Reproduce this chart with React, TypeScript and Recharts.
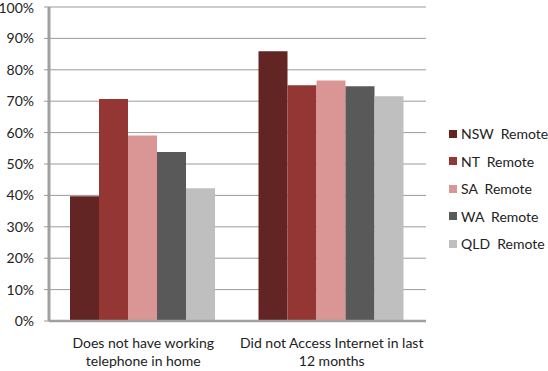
import React from "react";
import { BarChart, Bar, XAxis, YAxis, CartesianGrid, Legend } from "recharts";

const categories = [
  "Does not have working telephone in home",
  "Did not Access Internet in last 12 months",
];
const categoryLines = [
  ["Does not have working", "telephone in home"],
  ["Did not Access Internet in last", "12 months"],
];
const seriesNames = ["NSW  Remote", "NT  Remote", "SA  Remote", "WA  Remote", "QLD  Remote"];
const seriesKeys = ["nsw", "nt", "sa", "wa", "qld"];
const seriesColors = ["#632523", "#943634", "#D99694", "#595959", "#BFBFBF"];
const nswValues = [39.7, 85.9];
const ntValues = [70.7, 75.1];
const saValues = [59.1, 76.6];
const waValues = [53.8, 74.8];
const qldValues = [42.3, 71.6];
const yTicks = [0, 10, 20, 30, 40, 50, 60, 70, 80, 90, 100];
const boundaryTicks = [0, 1, 2];

const allValues = [nswValues, ntValues, saValues, waValues, qldValues];
const data = categories.map((c, i) => {
  const row: any = { name: c, idx: i + 0.5 };
  seriesKeys.forEach((k, s) => (row[k] = allValues[s][i]));
  return row;
});

const FONT = "Lato, 'Open Sans', sans-serif";

const CatTick = (props: any) => {
  const { x, y, payload } = props;
  const i = categories.indexOf(payload.value);
  const lines = categoryLines[i] || [payload.value];
  return (
    <g>
      {lines.map((l, k) => (
        <text
          key={k}
          x={x}
          y={y + 19 + k * 18}
          textAnchor="middle"
          fontSize={14}
          fill="#222"
          fontFamily={FONT}
        >
          {l}
        </text>
      ))}
    </g>
  );
};

const LegendContent = () => (
  <div style={{ fontFamily: FONT, fontSize: 14, color: "#222" }}>
    {seriesNames.map((n, i) => (
      <div
        key={n}
        style={{ display: "flex", alignItems: "center", height: 27.5, whiteSpace: "pre" }}
      >
        <span
          style={{
            display: "inline-block",
            width: 8,
            height: 8,
            background: seriesColors[i],
            marginRight: 4,
          }}
        />
        <span>{n}</span>
      </div>
    ))}
  </div>
);

export default function App() {
  return (
    <div style={{ position: "absolute", left: 0, top: 0, width: 548, height: 371, background: "#fff" }}>
      <BarChart
        width={548}
        height={371}
        data={data}
        margin={{ top: 7, right: 122, left: 0, bottom: 0 }}
        barCategoryGap={21}
        barGap={0}
      >
        <CartesianGrid horizontal vertical={false} stroke="#9a9a9a" strokeWidth={1} />
        <XAxis
          xAxisId="b"
          type="number"
          dataKey="idx"
          domain={[0, 2]}
          ticks={boundaryTicks}
          height={0}
          axisLine={false}
          tick={false}
          tickLine={{ stroke: "#a0a0a0", strokeWidth: 1.5 }}
          tickSize={5}
        />
        <XAxis
          dataKey="name"
          height={50}
          axisLine={{ stroke: "#a0a0a0", strokeWidth: 2.5 }}
          tickLine={false}
          tick={<CatTick />}
          interval={0}
        />
        <YAxis
          width={49}
          domain={[0, 100]}
          ticks={yTicks}
          tickFormatter={(v: number) => `${v}%`}
          axisLine={{ stroke: "#a0a0a0", strokeWidth: 3 }}
          tickLine={{ stroke: "#9a9a9a" }}
          tickSize={5}
          tickMargin={10}
          tick={{ fontSize: 14, fill: "#222", fontFamily: FONT }}
        />
        <Legend
          layout="horizontal"
          verticalAlign="middle"
          content={<LegendContent />}
          wrapperStyle={{ position: "absolute", left: 449, top: 120, width: 100 }}
        />
        {seriesKeys.map((k, i) => (
          <Bar
            key={k}
            dataKey={k}
            name={seriesNames[i]}
            fill={seriesColors[i]}
            isAnimationActive={false}
          />
        ))}
      </BarChart>
    </div>
  );
}
